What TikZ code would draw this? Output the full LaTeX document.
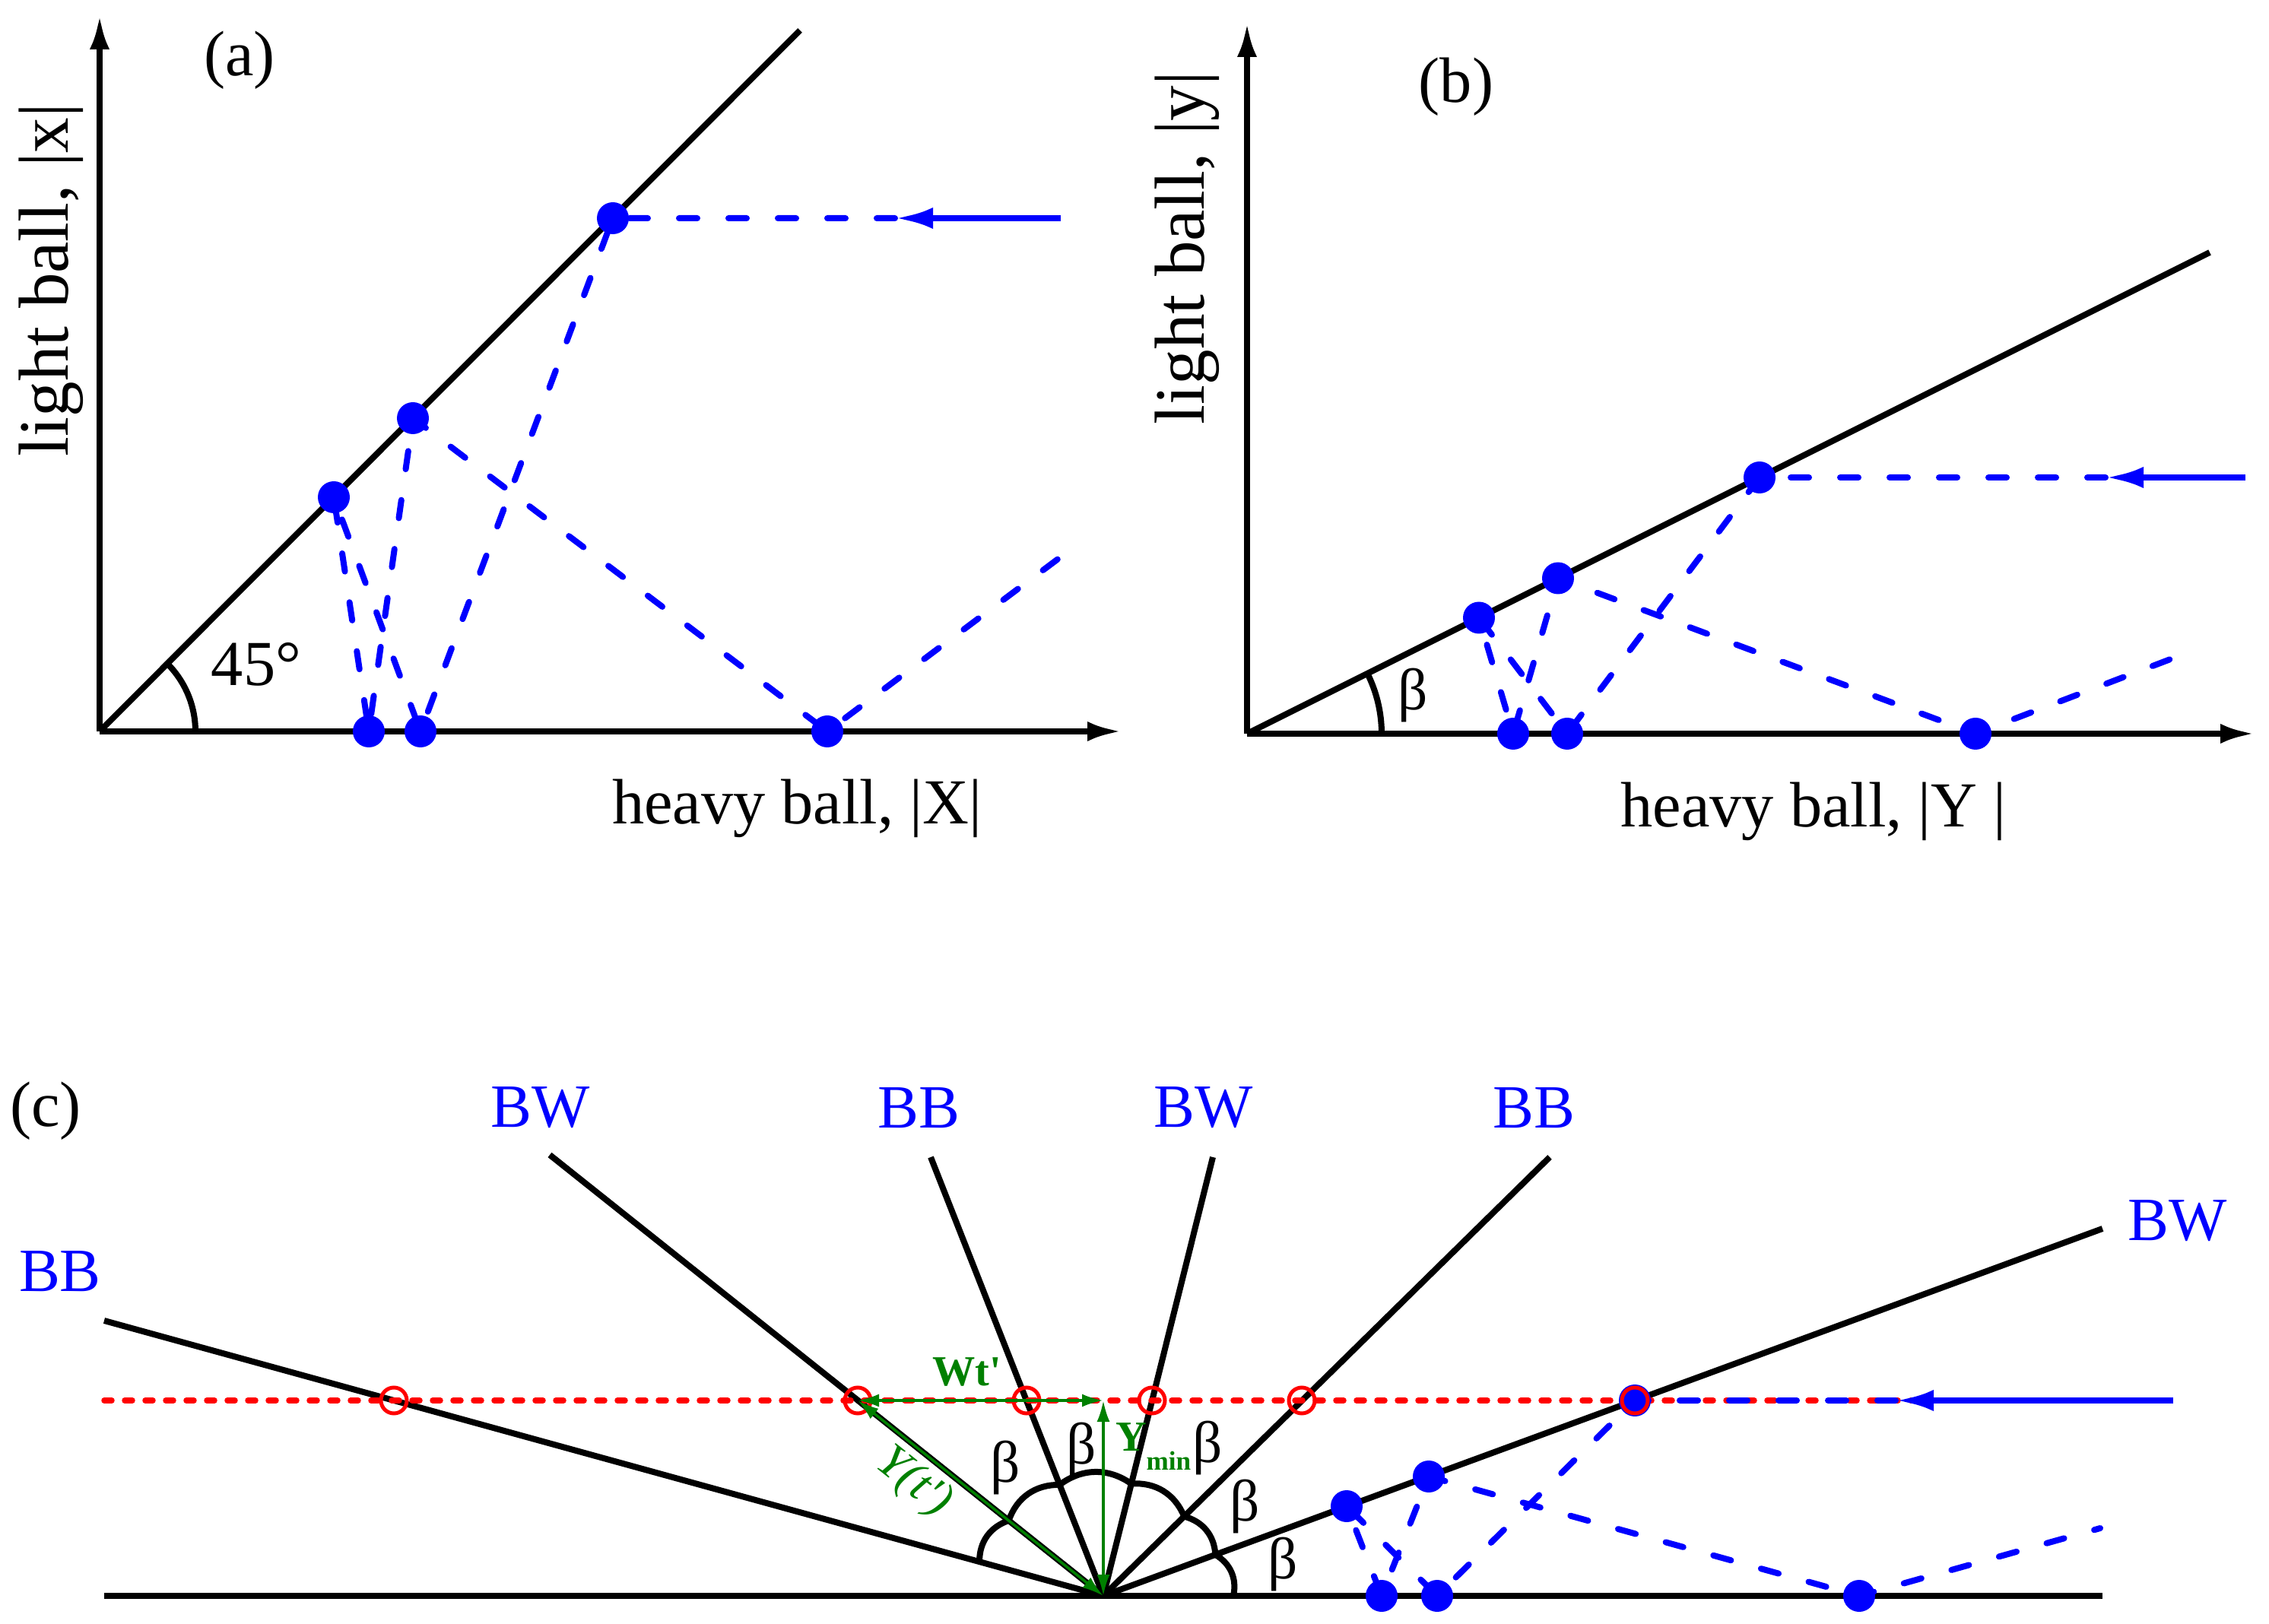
\documentclass[tikz,border=0pt]{standalone}
\usepackage{fontspec}
\setmainfont{Liberation Serif}
\usetikzlibrary{arrows.meta,calc}

\begin{document}
\begin{tikzpicture}[
    line width=0.8mm,
    ball/.style={circle, fill=blue, inner sep=0pt, minimum size=4.2mm},
    ring/.style={circle, draw=red, line width=0.5mm, inner sep=0pt, minimum size=3.4mm},
    bounce/.style={blue, dash pattern=on 2.4mm off 4.1mm, line cap=round},
    guide/.style={red, line width=0.75mm, dash pattern=on 1mm off 1.7mm, line cap=round},
    incoming/.style={blue, line width=0.85mm, -{Latex[length=5mm,width=2.8mm]}},
    axis/.style={-{Latex[length=4.5mm,width=2.6mm]}},
    gline/.style={green!50!black, line width=0.35mm, {Latex[length=2.8mm,width=1.7mm]}-{Latex[length=2.8mm,width=1.7mm]}},
    txt/.style={font=\fontsize{24}{28}\selectfont, inner sep=0pt},
    vtxt/.style={font=\fontsize{26.5}{30}\selectfont, inner sep=0pt, rotate=90},
    blbl/.style={font=\fontsize{22}{26}\selectfont, inner sep=0pt},
    clbl/.style={text=blue, font=\fontsize{23}{27}\selectfont, inner sep=0pt},
    glbl/.style={text=green!50!black, font=\fontsize{16}{19}\selectfont\bfseries, inner sep=0pt}
  ]
  \useasboundingbox (0,0) rectangle (29.84,21.35);

  % (a)
  \coordinate (Oa) at (1.31,11.73);
  \coordinate (Ya) at (1.31,21.15);
  \coordinate (Xa) at (14.75,11.73);
  \coordinate (Da) at (10.52,20.95);
  \draw[axis] (Oa) -- (Ya);
  \draw[axis] (Oa) -- (Xa);
  \draw (Oa) -- (Da);
  \draw (2.57,11.73) arc (0:45:1.26);
  \node[ball] (a1) at (4.39,14.81) {};
  \node[ball] (a2) at (5.43,15.85) {};
  \node[ball] (a3) at (8.06,18.48) {};
  \node[ball] (a4) at (4.85,11.73) {};
  \node[ball] (a5) at (5.53,11.73) {};
  \node[ball] (a6) at (10.88,11.73) {};
  \coordinate (aend) at (13.97,14.04);
  \coordinate (ain) at (13.95,18.48);
  \coordinate (atip) at (11.77,18.48);
  \draw[bounce] (atip) -- (a3.center) -- (a5.center) -- (a1.center) -- (a4.center) -- (a2.center) -- (a6.center) -- (aend);
  \draw[incoming] (ain) -- (atip);
  \node[txt] (la) at (3.15,20.56) {(a)};
  \node[txt] (anga) at (3.37,12.61) {45°};
  \node[txt] (hxa) at (10.48,10.72) {heavy ball, |X|};
  \node[vtxt] (lxa) at (0.67,17.67) {light ball, |x|};

  % (b)
  \coordinate (Ob) at (16.40,11.70);
  \coordinate (Yb) at (16.40,21.05);
  \coordinate (Xb) at (29.65,11.70);
  \coordinate (Db) at (29.06,18.03);
  \draw[axis] (Ob) -- (Yb);
  \draw[axis] (Ob) -- (Xb);
  \draw (Ob) -- (Db);
  \draw (18.17,11.70) arc (0:26.57:1.77);
  \node[ball] (b1) at (19.45,13.225) {};
  \node[ball] (b2) at (20.49,13.745) {};
  \node[ball] (b3) at (23.14,15.07) {};
  \node[ball] (b4) at (19.90,11.70) {};
  \node[ball] (b5) at (20.61,11.70) {};
  \node[ball] (b6) at (25.98,11.70) {};
  \coordinate (bend) at (28.91,12.82);
  \coordinate (bin) at (29.53,15.07);
  \coordinate (btip) at (27.69,15.07);
  \draw[bounce] (btip) -- (b3.center) -- (b5.center) -- (b1.center) -- (b4.center) -- (b2.center) -- (b6.center) -- (bend);
  \draw[incoming] (bin) -- (btip);
  \node[txt] (lb) at (19.15,20.21) {(b)};
  \node[blbl] (angb) at (18.58,12.20) {β};
  \node[txt] (hxb) at (23.85,10.68) {heavy ball, |Y |};
  \node[vtxt] (lxb) at (15.61,18.09) {light ball, |y|};

  % (c)
  \coordinate (V) at (14.51,0.36);
  \coordinate (r0l) at (1.37,0.36);
  \coordinate (r0) at (27.65,0.36);
  \coordinate (r1) at (27.65,5.19);
  \coordinate (r2) at (20.38,6.13);
  \coordinate (r3) at (15.95,6.13);
  \coordinate (r4) at (12.24,6.13);
  \coordinate (r5) at (7.23,6.16);
  \coordinate (r6) at (1.37,3.98);
  \draw (r0l) -- (r0);
  \foreach \r in {r1,r2,r3,r4,r5,r6}
    \draw (V) -- (\r);
  \coordinate (gl) at (1.37,2.93);
  \coordinate (gr) at (27.65,2.93);
  \coordinate (k1) at (21.50,2.93);
  \coordinate (k2) at (17.12,2.93);
  \coordinate (k3) at (15.15,2.93);
  \coordinate (k4) at (13.50,2.93);
  \coordinate (k5) at (11.28,2.93);
  \coordinate (k6) at (5.18,2.93);
  \draw[guide] (gl) -- (gr);
  \node[ball] (d1) at (17.71,1.54) {};
  \node[ball] (d2) at (18.79,1.93) {};
  \node[ball] (d3) at (k1) {};
  \node[ball] (d4) at (18.17,0.36) {};
  \node[ball] (d5) at (18.90,0.36) {};
  \node[ball] (d6) at (24.45,0.36) {};
  \coordinate (cend) at (27.62,1.25);
  \coordinate (cin) at (28.58,2.93);
  \coordinate (ctip) at (24.93,2.93);
  \draw[bounce] (ctip) -- (d3.center) -- (d5.center) -- (d1.center) -- (d4.center) -- (d2.center) -- (d6.center) -- (cend);
  \draw[incoming] (cin) -- (ctip);
  \foreach \i in {1,...,6}
    \node[ring] (c\i) at (k\i) {};

  % angle bumps
  \coordinate (p0) at ($(V)!1.71cm!(r0)$);
  \coordinate (p1) at ($(V)!1.57cm!(r1)$);
  \coordinate (p2) at ($(V)!1.49cm!(r2)$);
  \coordinate (p3) at ($(V)!1.52cm!(r3)$);
  \coordinate (p4) at ($(V)!1.57cm!(r4)$);
  \coordinate (p5) at ($(V)!1.59cm!(r5)$);
  \coordinate (p6) at ($(V)!1.69cm!(r6)$);
  \draw (p0) to[bend right=36] (p1) to[bend right=36] (p2) to[bend right=36] (p3)
        to[bend right=36] (p4) to[bend right=36] (p5) to[bend right=36] (p6);

  % green
  \coordinate (Ytop) at (V |- gl);
  \draw[gline] (V) -- (Ytop);
  \draw[gline] (Ytop) -- (k5);
  \draw[gline] (V) -- (k5);
  \node[glbl] (wt) at (12.72,3.30) {Wt\textquotesingle};
  \node[glbl, anchor=base west] (ymin) at (14.63,2.27) {Y\raisebox{-2.5mm}{\fontsize{10}{12}\selectfont min}};
  \node[glbl, font=\fontsize{18}{21}\selectfont\itshape, rotate=-38.5] (yt) at (12.01,1.85) {Y(t\textquotesingle)};

  \foreach \x/\y [count=\i] in {13.22/2.04, 14.22/2.28, 15.88/2.30, 16.37/1.53, 16.87/0.77}
    \node[blbl] (beta\i) at (\x,\y) {β};

  \node[txt] (lc) at (0.60,6.74) {(c)};
  \node[clbl] (w6) at (0.79,4.63) {BB};
  \node[clbl] (w5) at (7.11,6.78) {BW};
  \node[clbl] (w4) at (12.08,6.78) {BB};
  \node[clbl] (w3) at (15.83,6.78) {BW};
  \node[clbl] (w2) at (20.17,6.78) {BB};
  \node[clbl] (w1) at (28.64,5.29) {BW};
\end{tikzpicture}
\end{document}
